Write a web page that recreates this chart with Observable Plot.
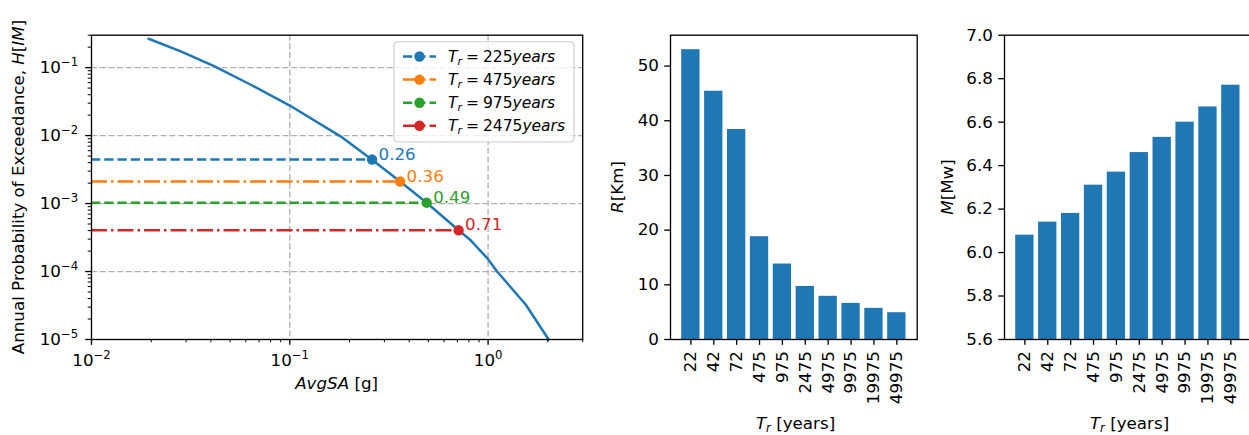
<!DOCTYPE html>
<html><head><meta charset="utf-8">
<script src="https://cdn.jsdelivr.net/npm/d3@7"></script>
<script src="https://cdn.jsdelivr.net/npm/@observablehq/plot@0.6"></script>
<style>
html,body{margin:0;padding:0;background:#fff;overflow:hidden;}
#wrap{position:relative;width:1249px;height:435px;overflow:hidden;background:#fff;}
#wrap > svg{position:absolute;top:0;}
</style></head><body><div id="wrap"></div>
<script>
// ---------- data ----------
const curveSA = [0.0194, 0.0282, 0.0415, 0.0636, 0.1, 0.181, 0.259, 0.36, 0.49, 0.71, 0.817, 1.0, 1.11, 1.55, 2.02];
const curveH  = [0.266, 0.173, 0.105, 0.056, 0.0277, 0.00966, 0.00444, 0.00211, 0.00103, 0.000404, 0.000288, 0.000152, 0.0001, 0.0000325, 0.00001];
const returnPeriods = [225, 475, 975, 2475];
const targetSA = [0.26, 0.36, 0.49, 0.71];
const targetH  = [0.00444, 0.00211, 0.00103, 0.000404];
const targetColors = ["#1f77b4", "#ff7f0e", "#2ca02c", "#d62728"];
const targetDash = ["9.25,4", "16,4,2.5,4", "9.25,4", "16,4,2.5,4"];
const trLabels = ["22","42","72","475","975","2475","4975","9975","19975","49975"];
const distanceR = [53.0, 45.4, 38.4, 18.8, 13.8, 9.7, 7.9, 6.6, 5.7, 4.9];
const magnitudeM = [6.08, 6.14, 6.18, 6.31, 6.37, 6.46, 6.53, 6.60, 6.67, 6.77];
const xMajor = [0.01, 0.1, 1];
const yMajor = [1e-5, 1e-4, 1e-3, 1e-2, 1e-1];
const rTicks = [0, 10, 20, 30, 40, 50];
const mTicks = [5.6, 5.8, 6.0, 6.2, 6.4, 6.6, 6.8, 7.0];
const xDom = [0.01, 3], yDom = [1e-5, 0.3], mDom = [5.6, 7.0];

// ---------- helpers ----------
const FS = 16.7;
const LFS = 15.5;
const BLUE = "#1f77b4";
const baseStyle = {fontFamily: "DejaVu Sans", fontSize: FS + "px", color: "black", background: "transparent", overflow: "visible"};
const isPow10 = v => Math.abs(Math.log10(v) - Math.round(Math.log10(v))) < 1e-9;
const powFmt = v => "10^" + Math.round(Math.log10(v));
const wrap = document.getElementById("wrap");

function fixPowers(svg) {
  svg.querySelectorAll("text").forEach(t => {
    const s = t.textContent;
    if (/^10\^/.test(s)) {
      const e = s.slice(3).replace("-", "\u2212");
      t.textContent = "10";
      const ts = document.createElementNS("http://www.w3.org/2000/svg", "tspan");
      ts.setAttribute("dy", "-6.8");
      ts.setAttribute("font-size", (FS * 0.7) + "px");
      ts.textContent = e;
      t.appendChild(ts);
    }
  });
}
function richText(parent, {x, y, rotate = 0, anchor = "middle", parts, size = FS, fill = "black"}) {
  const t = parent.append("text")
    .attr("transform", `translate(${x},${y}) rotate(${rotate})`)
    .attr("text-anchor", anchor).attr("font-family", "DejaVu Sans")
    .attr("font-size", size).attr("fill", fill).style("white-space", "pre");
  for (const p of parts) {
    const s = t.append("tspan").text(p.text);
    if (p.italic) s.attr("font-style", "italic");
    if (p.dy) s.attr("dy", p.dy);
    if (p.dx) s.attr("dx", p.dx);
    if (p.size) s.attr("font-size", p.size);
  }
  return t;
}

// ---------- panel 1: hazard curve ----------
const curve = curveSA.map((sa, i) => ({sa, h: curveH[i]}));
const targets = returnPeriods.map((tr, i) => ({tr, sa: targetSA[i], h: targetH[i], color: targetColors[i], dash: targetDash[i]}));
const minorX = d3.scaleLog().domain(xDom).ticks().filter(v => !isPow10(v) && v >= xDom[0] && v <= xDom[1] * 1.0001);
const minorY = d3.scaleLog().domain(yDom).ticks().filter(v => !isPow10(v) && v >= yDom[0] && v <= yDom[1] * 1.0001);
const grid = {stroke: "#b0b0b0", strokeOpacity: 1, strokeWidth: 1.3, strokeDasharray: "6,2.7"};

const p1 = Plot.plot({
  width: 600, height: 435,
  marginLeft: 91, marginRight: 17.8, marginTop: 34.7, marginBottom: 96,
  style: baseStyle,
  x: {type: "log", domain: xDom},
  y: {type: "log", domain: yDom},
  color: {type: "identity"},
  marks: [
    Plot.gridX(xMajor.slice(1), grid),
    Plot.gridY(yMajor.slice(1), grid),
    ...targets.map(t => Plot.ruleY([t], {y: "h", x1: () => xDom[0], x2: "sa", stroke: t.color, strokeWidth: 2.5, strokeDasharray: t.dash})),
    Plot.line(curve, {x: "sa", y: "h", stroke: BLUE, strokeWidth: 2.5}),
    Plot.dot(targets, {x: "sa", y: "h", r: 5.2, fill: "color", stroke: null}),
    Plot.text(targets, {x: "sa", y: "h", text: d => d.sa.toFixed(2), fill: "color", dx: 6.5, textAnchor: "start", lineAnchor: "bottom", fontSize: FS}),
    Plot.axisX(minorX, {tickSize: 3.3, tickFormat: () => "", label: null, strokeWidth: 1}),
    Plot.axisY(minorY, {tickSize: 3.3, tickFormat: () => "", label: null, strokeWidth: 1}),
    Plot.axisX(xMajor, {tickSize: 5.8, tickPadding: 9, tickFormat: powFmt, label: null, strokeWidth: 1.33}),
    Plot.axisY(yMajor, {tickSize: 5.8, tickPadding: 7.5, tickFormat: powFmt, label: null, strokeWidth: 1.33}),
    Plot.frame({stroke: "black", strokeWidth: 1.33})
  ]
});
p1.style.left = "0px";
wrap.appendChild(p1);
fixPowers(p1);
{
  const s = d3.select(p1);
  richText(s, {x: 24, y: 187, rotate: -90, parts: [
    {text: "Annual Probability of Exceedance, "}, {text: "H", italic: true}, {text: "["}, {text: "IM", italic: true}, {text: "]"}]});
  richText(s, {x: 336.6, y: 389, parts: [{text: "AvgSA", italic: true}, {text: " [g]"}]});
  // legend
  const lg = s.append("g");
  lg.append("rect").attr("x", 394).attr("y", 41.7).attr("width", 180).attr("height", 100.3).attr("rx", 3.5)
    .attr("fill", "white").attr("fill-opacity", 0.8).attr("stroke", "#cccccc").attr("stroke-width", 1.1);
  targets.forEach((t, i) => {
    const cy = 56.5 + i * 23.1;
    lg.append("line").attr("x1", 403).attr("x2", 436).attr("y1", cy).attr("y2", cy)
      .attr("stroke", t.color).attr("stroke-width", 2.5).attr("stroke-dasharray", t.dash);
    lg.append("circle").attr("cx", 419.5).attr("cy", cy).attr("r", 5.2).attr("fill", t.color);
    richText(lg, {x: 448, y: cy + 5.5, anchor: "start", size: LFS, parts: [
      {text: "T", italic: true}, {text: "r", italic: true, size: LFS * 0.7, dy: 3},
      {text: "=", dy: -3, dx: 4}, {text: String(t.tr), dx: 4}, {text: "years", italic: true}]});
  });
}

// ---------- panels 2 & 3: bars ----------
const bars = trLabels.map((t, i) => ({t, r: distanceR[i], m: magnitudeM[i]}));
const bandX = {type: "band", domain: trLabels, paddingInner: 0.2, paddingOuter: 0.49, round: false};
const trLabelParts = [{text: "T", italic: true}, {text: "r", italic: true, size: FS * 0.7, dy: 3}, {text: " [years]", dy: -3}];

const p2 = Plot.plot({
  width: 330, height: 435,
  marginLeft: 70, marginRight: 13.3, marginTop: 34.7, marginBottom: 96,
  style: baseStyle,
  x: bandX,
  y: {domain: [0, d3.max(distanceR) * 1.05]},
  marks: [
    Plot.barY(bars, {x: "t", y: "r", fill: BLUE}),
    Plot.axisX({tickRotate: -90, tickSize: 5.8, tickPadding: 5.8, label: null, strokeWidth: 1.33}),
    Plot.axisY(rTicks, {tickSize: 5.8, tickPadding: 5.8, label: null, strokeWidth: 1.33}),
    Plot.frame({stroke: "black", strokeWidth: 1.33})
  ]
});
p2.style.left = "600px";
wrap.appendChild(p2);
{
  const s = d3.select(p2);
  richText(s, {x: 22.7, y: 187, rotate: -90, parts: [{text: "R", italic: true}, {text: "[Km]"}]});
  richText(s, {x: 195.5, y: 429, parts: trLabelParts});
}

const p3 = Plot.plot({
  width: 331, height: 435,
  marginLeft: 74, marginRight: 10.3, marginTop: 34.7, marginBottom: 96,
  style: baseStyle,
  x: bandX,
  y: {domain: mDom},
  marks: [
    Plot.barY(bars, {x: "t", y1: () => mDom[0], y2: "m", fill: BLUE}),
    Plot.axisX({tickRotate: -90, tickSize: 5.8, tickPadding: 5.8, label: null, strokeWidth: 1.33}),
    Plot.axisY(mTicks, {tickSize: 5.8, tickPadding: 5.8, tickFormat: d3.format(".1f"), label: null, strokeWidth: 1.33}),
    Plot.frame({stroke: "black", strokeWidth: 1.33})
  ]
});
p3.style.left = "930px";
wrap.appendChild(p3);
{
  const s = d3.select(p3);
  richText(s, {x: 22.7, y: 187, rotate: -90, parts: [{text: "M", italic: true}, {text: "[Mw]"}]});
  richText(s, {x: 199.5, y: 429, parts: trLabelParts});
}
</script>
</body></html>
